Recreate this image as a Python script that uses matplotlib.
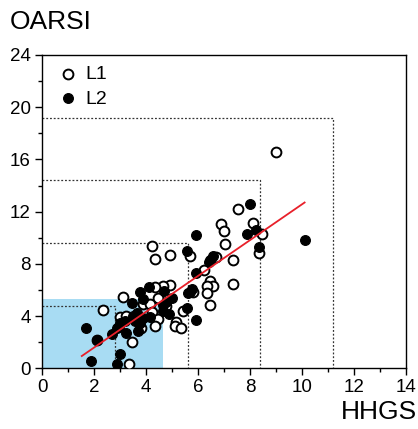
import matplotlib
matplotlib.use("Agg")
import matplotlib.pyplot as plt
from matplotlib.patches import Rectangle
from matplotlib.ticker import MultipleLocator

plt.rcParams['font.family'] = ['Liberation Sans', 'DejaVu Sans']

# L1 (open circles)
l1_x = [9.01, 7.55, 8.13, 6.88, 7.01, 8.47, 7.03, 4.23, 4.91, 4.33, 5.69, 6.68, 8.36, 7.36,
        6.24, 6.46, 7.36, 6.59, 6.33, 6.35, 5.82, 6.45, 5.42, 5.14, 5.10, 5.36, 4.91, 4.67,
        4.36, 4.46, 3.13, 3.90, 4.15, 4.22, 4.45, 4.35, 3.00, 3.23, 3.82, 3.45, 3.33, 2.35,
        2.13, 4.76]
l1_y = [16.6, 12.2, 11.16, 11.05, 10.52, 10.26, 9.52, 9.37, 8.71, 8.40, 8.60, 8.55, 8.81, 8.27,
        7.53, 6.69, 6.43, 6.33, 6.31, 5.74, 5.85, 4.83, 4.39, 3.57, 3.22, 3.06, 6.41, 6.31,
        6.25, 5.36, 5.49, 4.93, 4.90, 4.29, 3.75, 3.24, 3.90, 4.00, 3.06, 1.99, 0.33, 4.47,
        2.20, 4.80]

# L2 (filled circles)
l2_x = [8.01, 8.23, 7.90, 8.33, 10.13, 5.91, 5.56, 6.56, 6.46, 6.42, 5.91, 5.78, 5.69, 5.63,
        5.56, 5.91, 4.10, 3.77, 3.90, 3.46, 4.71, 5.01, 4.77, 4.64, 4.67, 4.90, 3.67, 3.49,
        3.90, 4.15, 3.58, 3.75, 3.00, 3.20, 2.95, 2.88, 2.71, 3.23, 3.68, 1.68, 2.10, 3.01,
        2.90, 1.90]
l2_y = [12.56, 10.60, 10.26, 9.32, 9.83, 10.21, 9.01, 8.63, 8.30, 8.12, 7.28, 6.10, 5.85, 5.74,
        4.60, 3.70, 6.23, 5.82, 5.31, 4.98, 5.95, 5.41, 5.10, 4.85, 4.39, 4.14, 4.24, 4.01,
        3.83, 3.96, 3.65, 3.45, 3.45, 3.60, 3.19, 3.05, 2.63, 2.68, 2.86, 3.09, 2.17, 1.10,
        0.31, 0.56]

# regression line endpoints
fit_x = [1.53, 10.10]
fit_y = [0.94, 12.70]

# nested dotted boxes (from origin) and shaded region
box_w = [2.8, 5.6, 8.4, 11.2]
box_h = [4.8, 9.6, 14.4, 19.2]
shade_w, shade_h = 4.65, 5.3

fig = plt.figure(figsize=(4.18, 4.29), dpi=100)
ax = fig.add_axes([0.1005, 0.1415, 0.8708, 0.7303])

ax.add_patch(Rectangle((0, 0), shade_w, shade_h, facecolor='#a8dcf3', edgecolor='none', zorder=0))
for w, h in zip(box_w, box_h):
    ax.plot([0, w, w], [h, h, 0], color='#333333', lw=0.9, ls=(0, (1.5, 1.5)), zorder=1)

ax.scatter(l1_x, l1_y, s=50, facecolors='white', edgecolors='black', linewidths=1.4, zorder=3, label='L1')
ax.scatter(l2_x, l2_y, s=50, facecolors='black', edgecolors='black', linewidths=0.8, zorder=3, label='L2')
ax.plot(fit_x, fit_y, color='#e8202a', lw=1.3, zorder=4)

ax.set_xlim(0, 14)
ax.set_ylim(0, 24)
ax.xaxis.set_major_locator(MultipleLocator(2))
ax.xaxis.set_minor_locator(MultipleLocator(1))
ax.yaxis.set_major_locator(MultipleLocator(4))
ax.yaxis.set_minor_locator(MultipleLocator(2))
ax.tick_params(which='major', direction='out', length=5, width=1, labelsize=13.5, pad=3)
ax.tick_params(which='minor', direction='out', length=3, width=1)
for sp in ax.spines.values():
    sp.set_linewidth(1)

leg = ax.legend(loc='upper left', frameon=False, fontsize=14, handletextpad=0.35,
                borderaxespad=0.0, labelspacing=0.35, handlelength=1.0,
                bbox_to_anchor=(0.03, 0.985), borderpad=0.3)

fig.text(10/418, 1 - 22/429, 'OARSI', fontsize=19, ha='left', va='center')
fig.text(417/418, 1 - 412/429, 'HHGS', fontsize=19, ha='right', va='center')

fig.savefig('out.png', dpi=100)
